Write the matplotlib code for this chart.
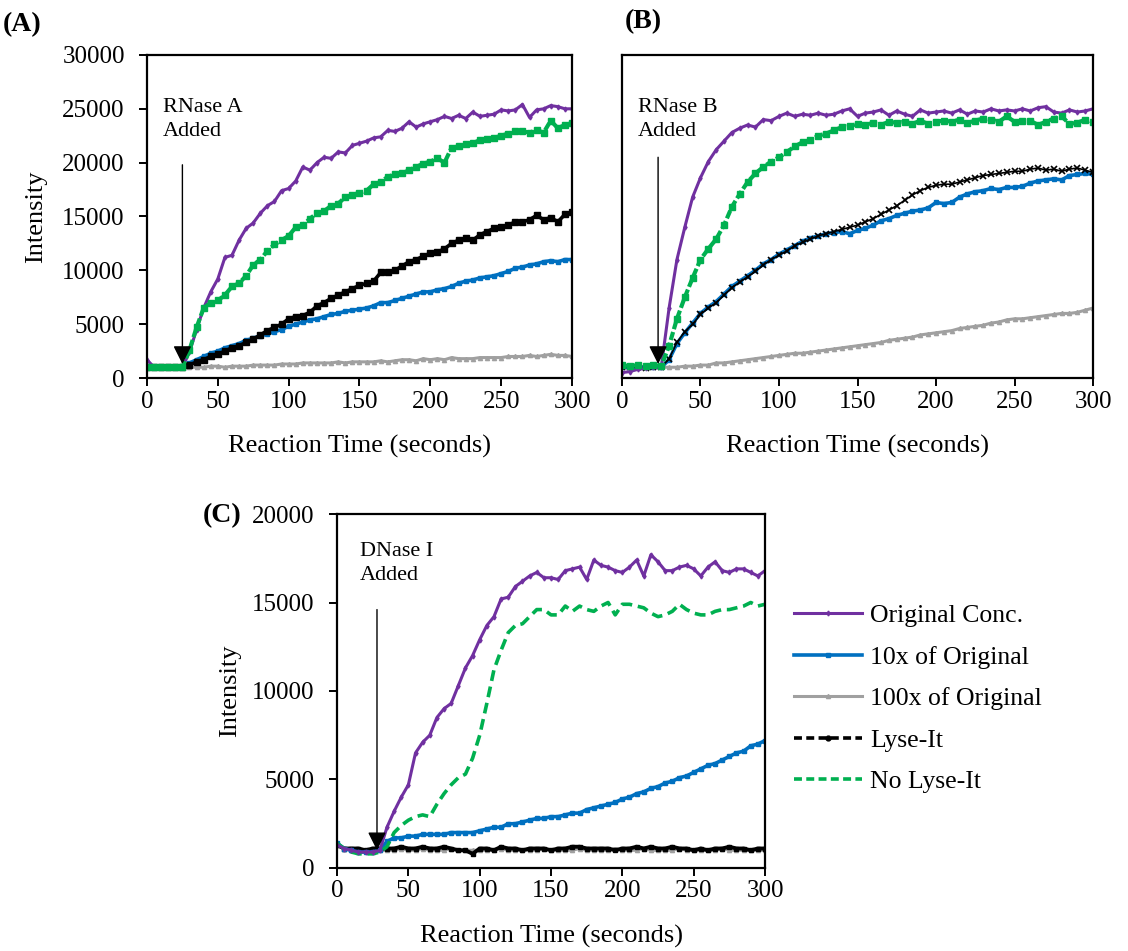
import numpy as np
import matplotlib
matplotlib.use("Agg")
import matplotlib.pyplot as plt
from matplotlib.lines import Line2D

plt.rcParams["font.family"] = ["Liberation Serif", "DejaVu Serif"]

# reaction time axis (seconds), one reading every 5 s
time_s = np.arange(0, 301, 5)

# ---------------- (A) RNase A ----------------
a_original = [1700, 1000, 1000, 1000, 1000, 1000, 2400, 4500, 6500, 8000, 9200, 11200, 11400, 12800, 13900,
              14400, 15300, 16000, 16400, 17400, 17600, 18300, 19600, 19300, 20000, 20500, 20400, 21000, 20900,
              21600, 21800, 22000, 22300, 22400, 23000, 22900, 23200, 23800, 23300, 23600, 23800, 24000, 24300,
              24100, 24400, 24100, 24700, 24300, 24400, 24500, 24900, 24800, 24900, 25400, 24200, 24900, 25000,
              25300, 25200, 25000, 25000]
a_10x = [1000, 1000, 1000, 1000, 1000, 1000, 1400, 1700, 2000, 2300, 2500, 2800, 3000, 3200, 3500, 3700, 3900,
         4100, 4300, 4500, 4800, 5000, 5200, 5400, 5500, 5700, 5900, 6000, 6200, 6300, 6400, 6500, 6700, 7000,
         7000, 7200, 7400, 7600, 7800, 8000, 8000, 8200, 8300, 8500, 8800, 9000, 9100, 9300, 9400, 9500, 9700,
         9900, 10200, 10300, 10500, 10600, 10800, 10900, 10800, 11000, 11000]
a_100x = [1000, 1000, 1000, 1000, 1000, 1000, 1000, 1000, 1000, 1100, 1100, 1000, 1100, 1100, 1100, 1200, 1200,
          1200, 1200, 1300, 1300, 1300, 1400, 1400, 1400, 1400, 1400, 1500, 1400, 1500, 1500, 1500, 1500, 1600,
          1500, 1600, 1700, 1700, 1600, 1800, 1700, 1800, 1700, 1900, 1800, 1800, 1800, 1900, 1900, 1900, 1900,
          2000, 2000, 2000, 2100, 2000, 2100, 2200, 2100, 2100, 2000]
a_lyse = [1000, 1000, 1000, 1000, 1000, 1000, 1200, 1500, 1700, 2000, 2200, 2500, 2800, 3000, 3300, 3600, 4000,
          4400, 4700, 5000, 5500, 5700, 5800, 6100, 6700, 7000, 7400, 7700, 8000, 8300, 8600, 8800, 9000, 9800,
          9800, 10000, 10400, 10800, 11000, 11300, 11600, 11700, 12000, 12500, 12800, 13000, 12800, 13300, 13600,
          13900, 14000, 14200, 14500, 14500, 14700, 15100, 14700, 14900, 14500, 15200, 15400]
a_nolyse = [1000, 1000, 1000, 1000, 1000, 1000, 2600, 4700, 6500, 7000, 7200, 7700, 8500, 8800, 9500, 10500,
            11000, 11800, 12400, 12800, 13200, 14000, 14200, 14800, 15300, 15500, 16000, 16200, 16800, 17000,
            17200, 17400, 18000, 18200, 18700, 18900, 19000, 19300, 19600, 19900, 20100, 20400, 20000, 21400,
            21500, 21700, 21800, 22100, 22200, 22300, 22500, 22700, 22900, 22900, 22800, 23000, 22800, 23900,
            23200, 23500, 23700]

# ---------------- (B) RNase B ----------------
b_original = [500, 600, 800, 900, 1000, 1000, 6500, 11000, 14000, 16800, 18600, 20100, 21200, 22000, 22800,
              23200, 23500, 23300, 24000, 23900, 24300, 24600, 24300, 24500, 24400, 24600, 24400, 24500, 24800,
              25000, 24300, 24600, 24700, 24900, 24400, 24800, 24500, 24300, 24900, 24600, 24700, 24800, 24600,
              24900, 24500, 24800, 24700, 25000, 24800, 24900, 24800, 25000, 24800, 25100, 25200, 24700, 24600,
              24900, 24700, 24800, 25000]
b_10x = [1000, 1000, 1000, 1000, 1000, 1000, 1700, 3200, 4200, 5100, 6000, 6600, 7100, 7800, 8500, 9000, 9500,
         10000, 10600, 11000, 11500, 11900, 12300, 12700, 13000, 13200, 13400, 13500, 13600, 13400, 13700, 13900,
         14200, 14600, 14800, 15100, 15300, 15500, 15600, 15800, 16300, 16200, 16300, 16800, 17100, 17300, 17400,
         17600, 17500, 17700, 17700, 17800, 18100, 18300, 18400, 18500, 18400, 18800, 18900, 19000, 18900]
b_100x = [1000, 1000, 1000, 1000, 1000, 1000, 1000, 1000, 1100, 1100, 1200, 1200, 1400, 1400, 1500, 1600, 1700,
          1800, 1900, 2000, 2100, 2200, 2300, 2300, 2400, 2500, 2600, 2700, 2800, 2900, 3000, 3100, 3200, 3300,
          3500, 3600, 3700, 3800, 4000, 4100, 4200, 4300, 4400, 4600, 4700, 4800, 4900, 5100, 5200, 5400, 5500,
          5500, 5600, 5700, 5800, 5900, 6000, 6000, 6100, 6300, 6500]
b_lyse = [1000, 1000, 1000, 950, 1050, 1000, 1800, 3300, 4300, 5000, 5900, 6500, 7000, 7700, 8400, 8900, 9400,
          9900, 10500, 11000, 11400, 11800, 12300, 12600, 12900, 13200, 13400, 13600, 13800, 14000, 14200, 14500,
          14800, 15200, 15600, 16000, 16500, 17000, 17400, 17700, 17900, 18000, 18000, 18200, 18400, 18600, 18800,
          18900, 19000, 19100, 19200, 19200, 19400, 19500, 19300, 19400, 19200, 19400, 19500, 19300, 19100]
b_nolyse = [1200, 1100, 1200, 1100, 1200, 1100, 3000, 5500, 7500, 9300, 11000, 12000, 12900, 14200, 15900,
            17100, 18200, 19000, 19600, 20100, 20500, 21000, 21500, 21900, 22100, 22500, 22700, 23000, 23300,
            23400, 23600, 23500, 23700, 23500, 23800, 23700, 23800, 23600, 23900, 23600, 23800, 23900, 23800,
            24000, 23700, 23900, 24100, 24000, 23800, 24300, 23800, 23900, 23900, 23500, 23800, 24100, 24300,
            23600, 23700, 24000, 23800]

# ---------------- (C) DNase I ----------------
c_original = [1300, 1100, 1000, 900, 900, 900, 1000, 2300, 3200, 4000, 4700, 6500, 7100, 7500, 8500, 9000, 9300,
              10300, 11300, 12000, 12900, 13700, 14200, 15200, 15300, 15900, 16200, 16500, 16700, 16400, 16400,
              16300, 16800, 16900, 17000, 16300, 17400, 17100, 17000, 16800, 16700, 17000, 17400, 16500, 17700,
              17300, 16800, 16800, 17000, 17100, 16900, 16500, 17000, 17300, 16800, 16700, 16900, 16900, 16700,
              16500, 16800]
c_10x = [1400, 1100, 1000, 900, 900, 900, 1000, 1500, 1700, 1700, 1800, 1800, 1900, 1900, 1900, 1900, 2000, 2000,
         2000, 2000, 2100, 2200, 2300, 2300, 2500, 2500, 2600, 2700, 2800, 2800, 2900, 2900, 3000, 3100, 3100,
         3300, 3400, 3500, 3600, 3700, 3900, 4000, 4200, 4300, 4500, 4600, 4800, 4900, 5100, 5200, 5400, 5600,
         5800, 5900, 6100, 6300, 6500, 6600, 6900, 7000, 7200]
c_100x = [1300, 1100, 1000, 1000, 1000, 1000, 1000, 1000, 1000, 1100, 1000, 1000, 1100, 1000, 1000, 1000, 1100,
          1000, 1000, 1000, 1000, 1000, 1000, 1100, 1000, 1000, 1000, 1000, 1000, 1100, 1000, 1000, 1000, 1000,
          1100, 1000, 1000, 1000, 1000, 1100, 1000, 1000, 1000, 1100, 1000, 1000, 1000, 1000, 1100, 1000, 1000,
          1000, 1000, 1000, 1100, 1000, 1000, 1000, 1000, 1000, 1000]
c_lyse = [1300, 1100, 1100, 1100, 1000, 1100, 1100, 1100, 1100, 1200, 1100, 1100, 1200, 1100, 1100, 1200, 1100,
          1000, 1000, 800, 1100, 1100, 1000, 1200, 1100, 1100, 1000, 1100, 1100, 1100, 1000, 1100, 1100, 1200,
          1200, 1100, 1100, 1100, 1100, 1000, 1100, 1100, 1200, 1100, 1200, 1100, 1100, 1200, 1100, 1100, 1000,
          1100, 1000, 1100, 1100, 1200, 1100, 1100, 1000, 1100, 1100]
c_nolyse = [1400, 1100, 900, 800, 800, 800, 900, 1200, 2000, 2400, 2700, 2900, 3000, 2900, 3600, 4200, 4700,
            5100, 5300, 6200, 7500, 9300, 11200, 12300, 13300, 13700, 13800, 14200, 14600, 14600, 14300, 14300,
            14800, 14500, 14800, 14600, 14500, 14800, 15000, 14300, 14900, 14900, 14800, 14700, 14400, 14200,
            14300, 14500, 14900, 14600, 14400, 14300, 14300, 14500, 14600, 14600, 14700, 14800, 15000, 14800,
            14900]

legend_labels = ["Original Conc.", "10x of Original", "100x of Original", "Lyse-It", "No Lyse-It"]

PURPLE = "#7030A0"
BLUE = "#0070C0"
GRAY = "#A0A0A0"
GREEN = "#00B050"
BLACK = "#000000"

TICK_FS = 18
LABEL_FS = 19

fig = plt.figure(figsize=(11.28, 9.51), dpi=100)
ax_a = fig.add_axes([0.1303, 0.6025, 0.3768, 0.3397])
ax_b = fig.add_axes([0.5514, 0.6025, 0.4176, 0.3397])
ax_c = fig.add_axes([0.2988, 0.0873, 0.3794, 0.3722])


def style_axes(ax, ymax, show_y=True):
    ax.set_xlim(0, 300)
    ax.set_ylim(0, ymax)
    ax.set_xticks(np.arange(0, 301, 50))
    ax.set_yticks(np.arange(0, ymax + 1, 5000))
    for sp in ax.spines.values():
        sp.set_linewidth(1.6)
    ax.tick_params(axis="x", direction="out", length=6, width=1.4, pad=3, labelsize=TICK_FS)
    ax.tick_params(axis="y", direction="out", length=6, width=1.4, pad=10, labelsize=TICK_FS)
    if not show_y:
        ax.tick_params(axis="y", left=False, labelleft=False)
    ax.set_xlabel("Reaction Time (seconds)", fontsize=LABEL_FS)
    if show_y:
        ax.set_ylabel("Intensity", fontsize=LABEL_FS)


def added_arrow(ax, text, x_text, y_text, x_arrow, y_top, y_tip):
    ax.text(x_text, y_text, text, fontsize=16, ha="left", va="top", linespacing=1.35)
    ax.annotate("", xy=(x_arrow, y_tip), xytext=(x_arrow, y_top),
                arrowprops=dict(arrowstyle="-|>", color="black", lw=1.0, mutation_scale=28,
                                shrinkA=0, shrinkB=0))


# (A)
ax_a.plot(time_s, a_100x, color=GRAY, lw=2.2, marker="^", ms=3)
ax_a.plot(time_s, a_10x, color=BLUE, lw=2.6, marker="s", ms=2.5)
ax_a.plot(time_s, a_lyse, color=BLACK, lw=2.6, marker="s", ms=4.5)
ax_a.plot(time_s, a_original, color=PURPLE, lw=2.2, marker="d", ms=2.5)
ax_a.plot(time_s, a_nolyse, color=GREEN, lw=3, marker="s", ms=4.5, ls=(0, (2, 0.7)))
style_axes(ax_a, 30000)
ax_a.yaxis.set_label_coords(-0.235, 0.5)
ax_a.xaxis.set_label_coords(0.5, -0.175)
added_arrow(ax_a, "RNase A\nAdded", 11, 26000, 25, 19800, 1300)

# (B)
ax_b.plot(time_s, b_100x, color=GRAY, lw=2.2, marker="^", ms=3)
ax_b.plot(time_s, b_10x, color=BLUE, lw=2.6, marker="s", ms=2.5)
ax_b.plot(time_s, b_lyse, color=BLACK, lw=1.2, marker="x", ms=5, mew=1.2)
ax_b.plot(time_s, b_original, color=PURPLE, lw=2.2, marker="d", ms=2.5)
ax_b.plot(time_s, b_nolyse, color=GREEN, lw=3, marker="s", ms=4.5, ls=(0, (2, 0.7)))
style_axes(ax_b, 30000, show_y=False)
ax_b.xaxis.set_label_coords(0.5, -0.175)
added_arrow(ax_b, "RNase B\nAdded", 10, 26000, 23, 20500, 1300)

# (C)
ax_c.plot(time_s, c_100x, color=GRAY, lw=2.2, marker="^", ms=3)
ax_c.plot(time_s, c_lyse, color=BLACK, lw=2.8, marker="s", ms=3)
ax_c.plot(time_s, c_10x, color=BLUE, lw=2.6, marker="s", ms=2.5)
ax_c.plot(time_s, c_nolyse, color=GREEN, lw=2.6, ls=(0, (3, 1.6)))
ax_c.plot(time_s, c_original, color=PURPLE, lw=2.2, marker="d", ms=2.5)
style_axes(ax_c, 20000)
ax_c.yaxis.set_label_coords(-0.225, 0.5)
ax_c.xaxis.set_label_coords(0.5, -0.162)
added_arrow(ax_c, "DNase I\nAdded", 16, 18400, 28, 14600, 1000)

# panel letters
fig.text(0.002, 0.974, "(A)", fontsize=20, fontweight="bold", va="center", ha="left")
fig.text(0.554, 0.977, "(B)", fontsize=20, fontweight="bold", va="center", ha="left")
fig.text(0.180, 0.458, "(C)", fontsize=20, fontweight="bold", va="center", ha="left")

# shared legend
handles = [
    Line2D([], [], color=PURPLE, lw=2.2, marker="d", ms=2.5),
    Line2D([], [], color=BLUE, lw=2.6, marker="s", ms=2.5),
    Line2D([], [], color=GRAY, lw=2.2, marker="^", ms=3),
    Line2D([], [], color=BLACK, lw=2.6, ls=(0, (2.2, 1.2)), marker="o", ms=3.5, markevery=[1]),
    Line2D([], [], color=GREEN, lw=2.6, ls=(0, (2.2, 1.2))),
]
fig.legend(handles, legend_labels, loc="upper left", bbox_to_anchor=(0.7039, 0.3645),
           frameon=False, fontsize=18.5, handlelength=2.65, handletextpad=0.3,
           labelspacing=0.72, borderpad=0, borderaxespad=0)

fig.savefig("out.png", dpi=100)
